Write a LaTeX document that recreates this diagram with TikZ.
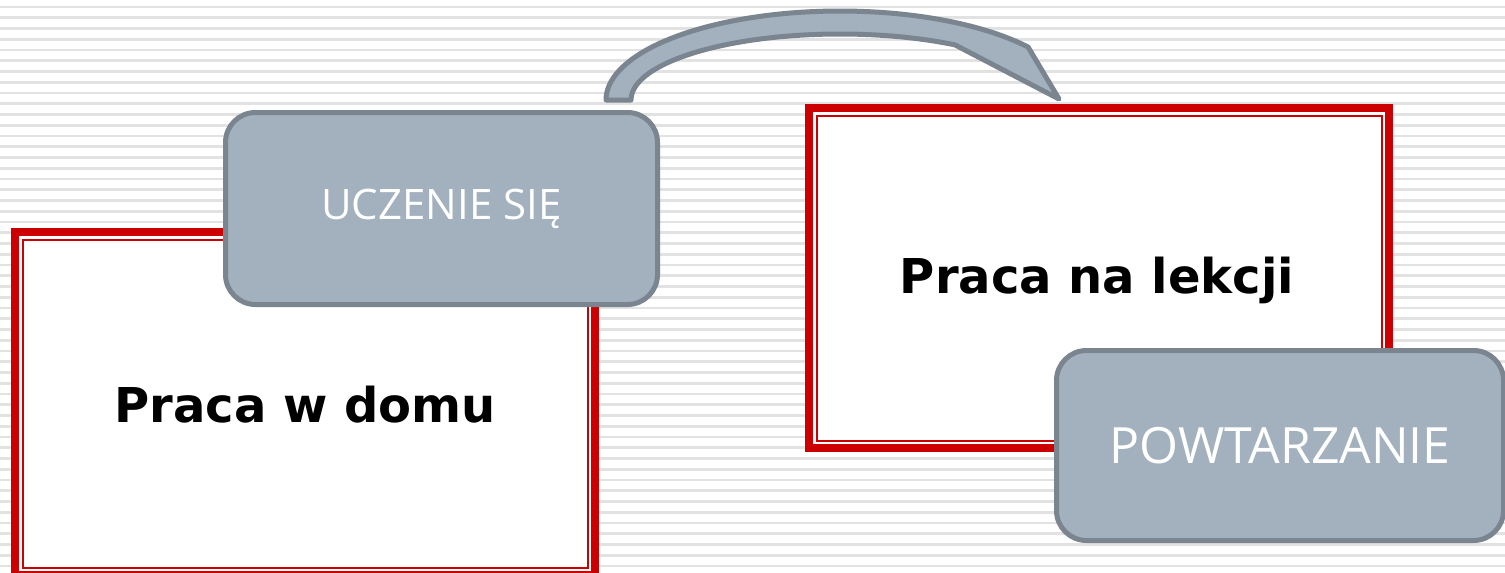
\documentclass[tikz,border=0pt]{standalone}
\usepackage{fontspec}
\setmainfont{DejaVu Sans}
\newfontfamily\labelfont{Open Sans}
\definecolor{framered}{HTML}{CC0000}
\definecolor{stripegray}{HTML}{E2E2E2}
\definecolor{slatefill}{HTML}{A3B0BE}
\definecolor{slateline}{HTML}{7A8590}
\tikzset{
  stripe/.style={draw=stripegray, line width=1.3pt},
  framebox/.style={draw=framered, fill=white, line width=4pt, rectangle, inner sep=0pt},
  innerframe/.style={draw=framered, line width=1pt, rectangle, inner sep=0pt},
  framelabel/.style={font=\bfseries\fontsize{24}{28}\selectfont, text=black, inner sep=0pt},
  tagbox/.style={draw=slateline, fill=slatefill, line width=2.5pt, rectangle, rounded corners=15pt,
     inner sep=0pt, text=white},
  bigarrow/.style={draw=slateline, fill=slatefill, line width=2.5pt, line join=round},
}
\begin{document}
\begin{tikzpicture}[x=0.5pt, y=-0.5pt]
\useasboundingbox (0,0) rectangle (1505,573);
\fill[white] (0,0) rectangle (1505,573);
% background stripes
\foreach \i in {0,...,52} {
  \draw[stripe] (0,{7+10.75*\i}) -- (1505,{7+10.75*\i});
}
% curved arrow
\coordinate (arrowtip) at (1059,99);
\draw[bigarrow]
  plot[domain=180:323.5, samples=60] ({840+234*cos(\x)}, {100+89*sin(\x)})
  -- (arrowtip)
  -- plot[domain=303.4:180, samples=60] ({840+209*cos(\x)}, {100+66*sin(\x)})
  -- cycle;
% left frame
\node[framebox, minimum width=290pt, minimum height=171.5pt] (home) at (305,403.5) {};
\node[innerframe, minimum width=282.5pt, minimum height=164pt] (homeinner) at (home.center) {};
\node[framelabel] (hometext) at (305,405) {Praca w domu};
% right frame
\node[framebox, minimum width=290pt, minimum height=170pt] (lesson) at (1099,278) {};
\node[innerframe, minimum width=282.5pt, minimum height=162.5pt] (lessoninner) at (lesson.center) {};
\node[framelabel] (lessontext) at (1097,280) {Praca na lekcji};
% tag boxes
\node[tagbox, minimum width=216pt, minimum height=96pt, font=\labelfont\fontsize{21}{25}\selectfont] (learn) at (441.5,208.5) {UCZENIE SIĘ};
\node[tagbox, minimum width=223.5pt, minimum height=95pt, font=\labelfont\fontsize{25}{30}\selectfont] (repeat) at (1280,445.5) {POWTARZANIE};
\end{tikzpicture}
\end{document}
